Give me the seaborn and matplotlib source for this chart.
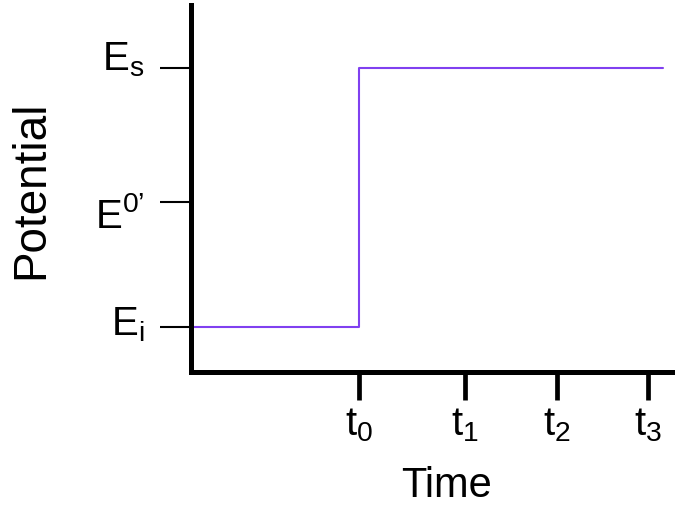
import matplotlib
matplotlib.use("Agg")
import matplotlib.pyplot as plt
import matplotlib.transforms as mtransforms
import seaborn as sns
import pandas as pd

# Potential-step waveform: potential held at E_i, stepped to E_s at t_0
time_ticks = [1.0, 1.633, 2.182, 2.725]
time_labels = [r"$\mathregular{t_0}$", r"$\mathregular{t_1}$",
               r"$\mathregular{t_2}$", r"$\mathregular{t_3}$"]
potential_ticks = [0.0, 0.482, 1.0]
potential_labels = [r"$\mathregular{E_i}$", "$\\mathregular{E^{0\u2019}}$",
                    r"$\mathregular{E_s}$"]

step_time = [0.0, 1.0, 2.815]
step_potential = [0.0, 1.0, 1.0]

sns.set_style("ticks")
plt.rcParams["font.family"] = ["Liberation Sans", "DejaVu Sans"]
plt.rcParams["mathtext.fontset"] = "custom"
plt.rcParams["mathtext.rm"] = "Liberation Sans"
for key in ("text.color", "axes.labelcolor", "xtick.color", "ytick.color"):
    plt.rcParams[key] = "black"

fig = plt.figure(figsize=(6.75, 5.06), dpi=100)
ax = fig.add_axes([0.2837, 0.2628, 0.7163, 0.7253])

df = pd.DataFrame({"Time": step_time, "Potential": step_potential})
sns.lineplot(data=df, x="Time", y="Potential", ax=ax, color="#8040f0",
             linewidth=1.5, drawstyle="steps-post")

ax.set_xlim(0, 2.887)
ax.set_ylim(-0.175, 1.2435)

ax.set_xticks(time_ticks)
ax.set_xticklabels(time_labels)
ax.set_yticks(potential_ticks)
ax.set_yticklabels(potential_labels)

ax.tick_params(axis="x", direction="out", length=20, width=3.4,
               labelsize=29, pad=4, color="black", labelcolor="black")
ax.tick_params(axis="y", direction="out", length=22, width=1.5,
               labelsize=29, pad=12, color="black", labelcolor="black")

# nudge the potential labels vertically (points)
label_shift = [5.0, -6.5, 10.0]
for lbl, dy in zip(ax.get_yticklabels(), label_shift):
    lbl.set_transform(lbl.get_transform()
                      + mtransforms.ScaledTranslation(0, dy / 72, fig.dpi_scale_trans))

for side in ("top", "right"):
    ax.spines[side].set_visible(False)
for side in ("left", "bottom"):
    ax.spines[side].set_linewidth(3.6)
    ax.spines[side].set_color("black")

ax.set_xlabel("Time", fontsize=30)
ax.set_ylabel("Potential", fontsize=33, labelpad=30)
ax.xaxis.set_label_coords(0.527, -0.253)

fig.savefig("out.png", dpi=100)
